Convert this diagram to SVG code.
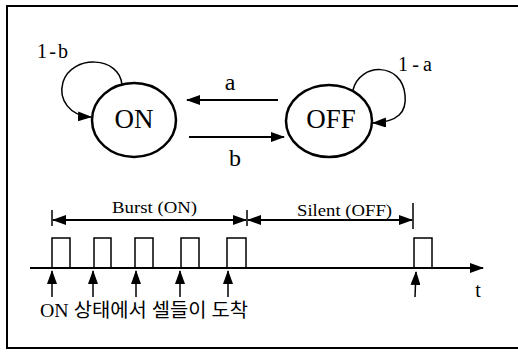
<svg xmlns="http://www.w3.org/2000/svg" width="518" height="352" viewBox="0 0 518 352">
  <style>
    .frame { fill: none; stroke: #000; stroke-width: 2; }
    .state { fill: #fff; stroke: #000; stroke-width: 2.5; }
    .line { fill: none; stroke: #000; stroke-width: 2; }
    .thin { fill: none; stroke: #000; stroke-width: 1.5; }
    text { fill: #000; }
  </style>
  <defs>
    <marker id="head" markerUnits="userSpaceOnUse" markerWidth="14" markerHeight="10" refX="13" refY="5" orient="auto">
      <path d="M0,0 L14,5 L0,10 z" fill="#000"/>
    </marker>
    <marker id="headStart" markerUnits="userSpaceOnUse" markerWidth="14" markerHeight="10" refX="1" refY="5" orient="auto">
      <path d="M14,0 L0,5 L14,10 z" fill="#000"/>
    </marker>
  </defs>

  <rect width="518" height="352" fill="#fff"/>

  <!-- border: top, left and bottom edges -->
  <path class="frame" d="M518,6 L7,6 L7,348 L518,348"/>

  <g font-family="Liberation Serif, DejaVu Serif, serif">
    <!-- state nodes -->
    <g id="on">
      <ellipse class="state" cx="134" cy="120" rx="42" ry="37"/>
      <text x="134" y="128" font-size="27" text-anchor="middle">ON</text>
    </g>
    <g id="off">
      <ellipse class="state" cx="329" cy="121" rx="43" ry="36"/>
      <text x="331" y="128" font-size="27" text-anchor="middle">OFF</text>
    </g>

    <!-- transitions -->
    <g id="connectors">
      <path class="line" d="M278,100 L187,100" marker-end="url(#head)"/>
      <path class="line" d="M189,137 L284,137" marker-end="url(#head)"/>
      <path class="thin" d="M122,85 C120,56 72,54 63,82 C58,100 70,116 91,117" marker-end="url(#head)"/>
      <path class="thin" d="M353,90 C360,62 402,62 405,95 C407,112 398,122 373,123" marker-end="url(#head)"/>
    </g>
    <g id="labels">
      <text x="230" y="90" font-size="24" text-anchor="middle">a</text>
      <text x="235" y="166" font-size="24" text-anchor="middle">b</text>
      <text x="37" y="58" font-size="20" textLength="31" lengthAdjust="spacing">1-b</text>
      <text x="398" y="71" font-size="20" textLength="34" lengthAdjust="spacing">1-a</text>
    </g>

    <!-- cell arrival timeline -->
    <g id="timeline">
      <path class="line" d="M30,268 L483,268" marker-end="url(#head)"/>
      <g class="thin">
        <path d="M52,268 V238 H70 V268"/>
        <path d="M94,268 V238 H111 V268"/>
        <path d="M135,268 V238 H153 V268"/>
        <path d="M181,268 V238 H199 V268"/>
        <path d="M227,268 V238 H246 V268"/>
        <path d="M414,268 V238 H432 V268"/>
      </g>
      <g class="thin">
        <path d="M52,297 L52,271" marker-end="url(#head)"/>
        <path d="M93,297 L93,271" marker-end="url(#head)"/>
        <path d="M136,297 L136,271" marker-end="url(#head)"/>
        <path d="M180,297 L180,271" marker-end="url(#head)"/>
        <path d="M228,297 L228,271" marker-end="url(#head)"/>
        <path d="M415,297 L416,272" marker-end="url(#head)"/>
      </g>
      <text x="478" y="297" font-size="20" text-anchor="middle">t</text>
    </g>

    <!-- burst / silent periods -->
    <g id="periods">
      <path class="thin" d="M52,210 V226 M247,210 V226 M413,203 V229"/>
      <path class="line" d="M53,220 L246,220" marker-start="url(#headStart)" marker-end="url(#head)"/>
      <path class="line" d="M248,220 L412,220" marker-start="url(#headStart)" marker-end="url(#head)"/>
      <text x="112" y="213" font-size="17" textLength="85" lengthAdjust="spacingAndGlyphs">Burst (ON)</text>
      <text x="297" y="216" font-size="17" textLength="95" lengthAdjust="spacingAndGlyphs">Silent (OFF)</text>
    </g>

    <text x="40" y="317" font-size="19" font-family="Liberation Serif, Noto Sans CJK KR, serif" textLength="208" lengthAdjust="spacingAndGlyphs">ON 상태에서 셀들이 도착</text>
  </g>
</svg>
